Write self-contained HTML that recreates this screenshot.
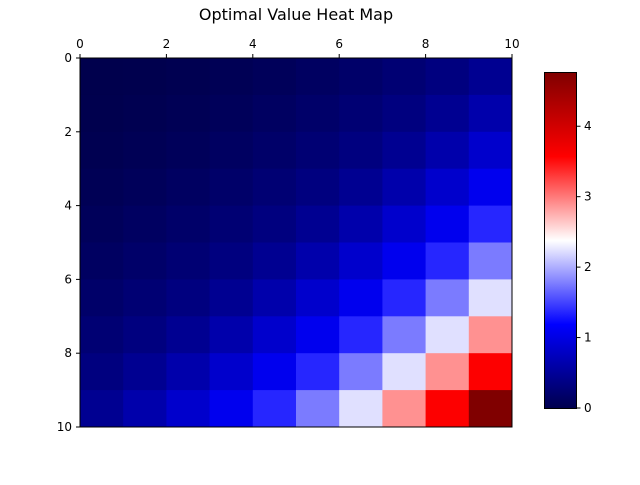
<!DOCTYPE html>
<html><head><meta charset="utf-8"><style>
body{margin:0;background:#fff;font-family:"Liberation Sans","DejaVu Sans",sans-serif;}
svg text{font-family:"DejaVu Sans","Liberation Sans",sans-serif;}
</style></head><body>
<svg id="chart" width="640" height="480" xmlns="http://www.w3.org/2000/svg">
<defs><linearGradient id="cbg" x1="0" y1="1" x2="0" y2="0">
<stop offset="0" stop-color="rgb(0,0,77)"/><stop offset="0.25" stop-color="rgb(0,0,255)"/>
<stop offset="0.5" stop-color="rgb(255,255,255)"/><stop offset="0.75" stop-color="rgb(255,0,0)"/>
<stop offset="1" stop-color="rgb(128,0,0)"/></linearGradient></defs>
<text x="296" y="20" font-size="16" text-anchor="middle">Optimal Value Heat Map</text>
<g id="cells"></g><g id="axes"></g>
</svg>
<script>
const diagVals=[0,0.01,0.03,0.057,0.09,0.14,0.19,0.26,0.34,0.46,0.63,0.85,1.08,1.37,1.77,2.24,2.9,3.6,4.77];
const xTicks=[0,2,4,6,8,10];
const yTicks=[0,2,4,6,8,10];
const cbTicks=[0,1,2,3,4];
const vmax=4.77;
const N=10;
const X0=80,X1=512,Y0=58,Y1=427;
const sx=v=>X0+(X1-X0)*v/N, sy=v=>Y0+(Y1-Y0)*v/N;
const CB0=408, cbScale=v=>CB0-(CB0-72)*v/vmax;
function seismic(v){let t=Math.max(0,Math.min(1,v/vmax));
 const st=[[0,0,0,.3],[.25,0,0,1],[.5,1,1,1],[.75,1,0,0],[1,.5,0,0]];
 for(let i=0;i<4;i++){if(t<=st[i+1][0]){const a=st[i],b=st[i+1],f=(t-a[0])/(b[0]-a[0]);
 return `rgb(${[1,2,3].map(k=>Math.round(255*(a[k]+(b[k]-a[k])*f))).join(',')})`;}}
 return 'rgb(128,0,0)';}
const NS='http://www.w3.org/2000/svg';
const svg=document.getElementById('chart'),cg=document.getElementById('cells'),ag=document.getElementById('axes');
function mk(t,a,p){const e=document.createElementNS(NS,t);for(const k in a)e.setAttribute(k,a[k]);(p||ag).appendChild(e);return e;}
for(let r=0;r<N;r++)for(let c=0;c<N;c++){
 const v=diagVals[r+c];
 const e=mk('rect',{x:sx(c),y:sy(r),width:sx(c+1)-sx(c)+0.5,height:sy(r+1)-sy(r)+0.5,fill:seismic(v)},cg);
 
 
}
let f=mk('rect',{x:X0,y:Y0,width:X1-X0,height:Y1-Y0,fill:'none',stroke:'#000','stroke-width':1});

xTicks.forEach(v=>{mk('line',{x1:sx(v),x2:sx(v),y1:Y0,y2:Y0-4,stroke:'#000'});
 const t=mk('text',{x:sx(v),y:Y0-10,'font-size':12,'text-anchor':'middle'});t.textContent=v;
 });
yTicks.forEach(v=>{mk('line',{x1:X0,x2:X0-4,y1:sy(v),y2:sy(v),stroke:'#000'});
 const t=mk('text',{x:X0-8,y:sy(v)+4,'font-size':12,'text-anchor':'end'});t.textContent=v;
 });
let cb=mk('rect',{x:544.5,y:72.5,width:32,height:CB0-72,fill:'url(#cbg)',stroke:'#000'});

cbTicks.forEach(v=>{const y=cbScale(v);mk('line',{x1:576.5,x2:580.5,y1:y,y2:y,stroke:'#000'});
 const t=mk('text',{x:584,y:y+4,'font-size':12});t.textContent=v;
 });
</script>
</body></html>
